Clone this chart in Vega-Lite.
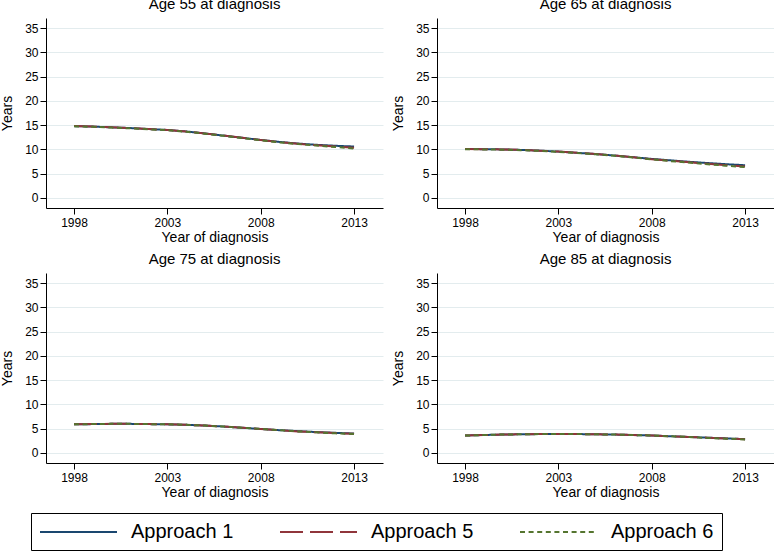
{
"$schema": "https://vega.github.io/schema/vega-lite/v6.json",
"background": "white",
"padding": {"left": 0, "top": -3, "right": 0, "bottom": 0},
"config": {
  "font": "Liberation Sans",
  "view": {"stroke": null},
  "title": {"fontSize": 15, "fontWeight": "normal", "color": "black", "offset": 6, "anchor": "middle", "font": "Liberation Sans"},
  "axis": {"domainColor": "black", "tickColor": "black", "labelColor": "black", "titleColor": "black", "labelFontSize": 12, "titleFontSize": 14, "titleFontWeight": "normal", "tickSize": 6, "gridColor": "#e3ecee", "gridWidth": 1, "labelFont": "Liberation Sans", "titleFont": "Liberation Sans"},
  "axisX": {"labelPadding": 3, "titlePadding": 2},
  "axisY": {"labelPadding": 2, "titlePadding": 10, "labelAngle": 0}
},
"data": {"values": [
{"age":55,"approach":"Approach 1","year":1998,"years":14.8},{"age":55,"approach":"Approach 1","year":1999,"years":14.7},{"age":55,"approach":"Approach 1","year":2000,"years":14.55},{"age":55,"approach":"Approach 1","year":2001,"years":14.4},{"age":55,"approach":"Approach 1","year":2002,"years":14.2},{"age":55,"approach":"Approach 1","year":2003,"years":14.0},{"age":55,"approach":"Approach 1","year":2004,"years":13.7},{"age":55,"approach":"Approach 1","year":2005,"years":13.3},{"age":55,"approach":"Approach 1","year":2006,"years":12.85},{"age":55,"approach":"Approach 1","year":2007,"years":12.4},{"age":55,"approach":"Approach 1","year":2008,"years":11.95},{"age":55,"approach":"Approach 1","year":2009,"years":11.55},{"age":55,"approach":"Approach 1","year":2010,"years":11.2},{"age":55,"approach":"Approach 1","year":2011,"years":10.95},{"age":55,"approach":"Approach 1","year":2012,"years":10.75},{"age":55,"approach":"Approach 1","year":2013,"years":10.6},
{"age":55,"approach":"Approach 5","year":1998,"years":14.8},{"age":55,"approach":"Approach 5","year":1999,"years":14.7},{"age":55,"approach":"Approach 5","year":2000,"years":14.55},{"age":55,"approach":"Approach 5","year":2001,"years":14.4},{"age":55,"approach":"Approach 5","year":2002,"years":14.2},{"age":55,"approach":"Approach 5","year":2003,"years":14.0},{"age":55,"approach":"Approach 5","year":2004,"years":13.7},{"age":55,"approach":"Approach 5","year":2005,"years":13.3},{"age":55,"approach":"Approach 5","year":2006,"years":12.85},{"age":55,"approach":"Approach 5","year":2007,"years":12.4},{"age":55,"approach":"Approach 5","year":2008,"years":11.95},{"age":55,"approach":"Approach 5","year":2009,"years":11.5},{"age":55,"approach":"Approach 5","year":2010,"years":11.15},{"age":55,"approach":"Approach 5","year":2011,"years":10.85},{"age":55,"approach":"Approach 5","year":2012,"years":10.6},{"age":55,"approach":"Approach 5","year":2013,"years":10.35},
{"age":55,"approach":"Approach 6","year":1998,"years":14.75},{"age":55,"approach":"Approach 6","year":1999,"years":14.65},{"age":55,"approach":"Approach 6","year":2000,"years":14.5},{"age":55,"approach":"Approach 6","year":2001,"years":14.35},{"age":55,"approach":"Approach 6","year":2002,"years":14.15},{"age":55,"approach":"Approach 6","year":2003,"years":13.95},{"age":55,"approach":"Approach 6","year":2004,"years":13.65},{"age":55,"approach":"Approach 6","year":2005,"years":13.25},{"age":55,"approach":"Approach 6","year":2006,"years":12.8},{"age":55,"approach":"Approach 6","year":2007,"years":12.35},{"age":55,"approach":"Approach 6","year":2008,"years":11.9},{"age":55,"approach":"Approach 6","year":2009,"years":11.45},{"age":55,"approach":"Approach 6","year":2010,"years":11.1},{"age":55,"approach":"Approach 6","year":2011,"years":10.8},{"age":55,"approach":"Approach 6","year":2012,"years":10.5},{"age":55,"approach":"Approach 6","year":2013,"years":10.2},
{"age":65,"approach":"Approach 1","year":1998,"years":10.1},{"age":65,"approach":"Approach 1","year":1999,"years":10.05},{"age":65,"approach":"Approach 1","year":2000,"years":10.0},{"age":65,"approach":"Approach 1","year":2001,"years":9.9},{"age":65,"approach":"Approach 1","year":2002,"years":9.75},{"age":65,"approach":"Approach 1","year":2003,"years":9.55},{"age":65,"approach":"Approach 1","year":2004,"years":9.3},{"age":65,"approach":"Approach 1","year":2005,"years":9.05},{"age":65,"approach":"Approach 1","year":2006,"years":8.75},{"age":65,"approach":"Approach 1","year":2007,"years":8.4},{"age":65,"approach":"Approach 1","year":2008,"years":8.05},{"age":65,"approach":"Approach 1","year":2009,"years":7.75},{"age":65,"approach":"Approach 1","year":2010,"years":7.45},{"age":65,"approach":"Approach 1","year":2011,"years":7.2},{"age":65,"approach":"Approach 1","year":2012,"years":6.95},{"age":65,"approach":"Approach 1","year":2013,"years":6.75},
{"age":65,"approach":"Approach 5","year":1998,"years":10.1},{"age":65,"approach":"Approach 5","year":1999,"years":10.05},{"age":65,"approach":"Approach 5","year":2000,"years":10.0},{"age":65,"approach":"Approach 5","year":2001,"years":9.9},{"age":65,"approach":"Approach 5","year":2002,"years":9.75},{"age":65,"approach":"Approach 5","year":2003,"years":9.55},{"age":65,"approach":"Approach 5","year":2004,"years":9.3},{"age":65,"approach":"Approach 5","year":2005,"years":9.05},{"age":65,"approach":"Approach 5","year":2006,"years":8.75},{"age":65,"approach":"Approach 5","year":2007,"years":8.4},{"age":65,"approach":"Approach 5","year":2008,"years":8.0},{"age":65,"approach":"Approach 5","year":2009,"years":7.7},{"age":65,"approach":"Approach 5","year":2010,"years":7.35},{"age":65,"approach":"Approach 5","year":2011,"years":7.05},{"age":65,"approach":"Approach 5","year":2012,"years":6.75},{"age":65,"approach":"Approach 5","year":2013,"years":6.5},
{"age":65,"approach":"Approach 6","year":1998,"years":10.05},{"age":65,"approach":"Approach 6","year":1999,"years":10.0},{"age":65,"approach":"Approach 6","year":2000,"years":9.95},{"age":65,"approach":"Approach 6","year":2001,"years":9.85},{"age":65,"approach":"Approach 6","year":2002,"years":9.7},{"age":65,"approach":"Approach 6","year":2003,"years":9.5},{"age":65,"approach":"Approach 6","year":2004,"years":9.25},{"age":65,"approach":"Approach 6","year":2005,"years":9.0},{"age":65,"approach":"Approach 6","year":2006,"years":8.7},{"age":65,"approach":"Approach 6","year":2007,"years":8.35},{"age":65,"approach":"Approach 6","year":2008,"years":7.95},{"age":65,"approach":"Approach 6","year":2009,"years":7.6},{"age":65,"approach":"Approach 6","year":2010,"years":7.3},{"age":65,"approach":"Approach 6","year":2011,"years":6.95},{"age":65,"approach":"Approach 6","year":2012,"years":6.65},{"age":65,"approach":"Approach 6","year":2013,"years":6.35},
{"age":75,"approach":"Approach 1","year":1998,"years":5.9},{"age":75,"approach":"Approach 1","year":1999,"years":5.95},{"age":75,"approach":"Approach 1","year":2000,"years":6.0},{"age":75,"approach":"Approach 1","year":2001,"years":6.0},{"age":75,"approach":"Approach 1","year":2002,"years":5.95},{"age":75,"approach":"Approach 1","year":2003,"years":5.9},{"age":75,"approach":"Approach 1","year":2004,"years":5.8},{"age":75,"approach":"Approach 1","year":2005,"years":5.65},{"age":75,"approach":"Approach 1","year":2006,"years":5.45},{"age":75,"approach":"Approach 1","year":2007,"years":5.2},{"age":75,"approach":"Approach 1","year":2008,"years":4.95},{"age":75,"approach":"Approach 1","year":2009,"years":4.7},{"age":75,"approach":"Approach 1","year":2010,"years":4.5},{"age":75,"approach":"Approach 1","year":2011,"years":4.3},{"age":75,"approach":"Approach 1","year":2012,"years":4.15},{"age":75,"approach":"Approach 1","year":2013,"years":4.0},
{"age":75,"approach":"Approach 5","year":1998,"years":5.9},{"age":75,"approach":"Approach 5","year":1999,"years":5.95},{"age":75,"approach":"Approach 5","year":2000,"years":6.0},{"age":75,"approach":"Approach 5","year":2001,"years":6.0},{"age":75,"approach":"Approach 5","year":2002,"years":5.95},{"age":75,"approach":"Approach 5","year":2003,"years":5.9},{"age":75,"approach":"Approach 5","year":2004,"years":5.8},{"age":75,"approach":"Approach 5","year":2005,"years":5.65},{"age":75,"approach":"Approach 5","year":2006,"years":5.45},{"age":75,"approach":"Approach 5","year":2007,"years":5.2},{"age":75,"approach":"Approach 5","year":2008,"years":4.95},{"age":75,"approach":"Approach 5","year":2009,"years":4.7},{"age":75,"approach":"Approach 5","year":2010,"years":4.45},{"age":75,"approach":"Approach 5","year":2011,"years":4.25},{"age":75,"approach":"Approach 5","year":2012,"years":4.1},{"age":75,"approach":"Approach 5","year":2013,"years":3.95},
{"age":75,"approach":"Approach 6","year":1998,"years":5.9},{"age":75,"approach":"Approach 6","year":1999,"years":5.95},{"age":75,"approach":"Approach 6","year":2000,"years":6.0},{"age":75,"approach":"Approach 6","year":2001,"years":6.0},{"age":75,"approach":"Approach 6","year":2002,"years":5.95},{"age":75,"approach":"Approach 6","year":2003,"years":5.9},{"age":75,"approach":"Approach 6","year":2004,"years":5.8},{"age":75,"approach":"Approach 6","year":2005,"years":5.65},{"age":75,"approach":"Approach 6","year":2006,"years":5.45},{"age":75,"approach":"Approach 6","year":2007,"years":5.2},{"age":75,"approach":"Approach 6","year":2008,"years":4.95},{"age":75,"approach":"Approach 6","year":2009,"years":4.7},{"age":75,"approach":"Approach 6","year":2010,"years":4.45},{"age":75,"approach":"Approach 6","year":2011,"years":4.25},{"age":75,"approach":"Approach 6","year":2012,"years":4.05},{"age":75,"approach":"Approach 6","year":2013,"years":3.9},
{"age":85,"approach":"Approach 1","year":1998,"years":3.6},{"age":85,"approach":"Approach 1","year":1999,"years":3.7},{"age":85,"approach":"Approach 1","year":2000,"years":3.8},{"age":85,"approach":"Approach 1","year":2001,"years":3.85},{"age":85,"approach":"Approach 1","year":2002,"years":3.9},{"age":85,"approach":"Approach 1","year":2003,"years":3.9},{"age":85,"approach":"Approach 1","year":2004,"years":3.9},{"age":85,"approach":"Approach 1","year":2005,"years":3.85},{"age":85,"approach":"Approach 1","year":2006,"years":3.8},{"age":85,"approach":"Approach 1","year":2007,"years":3.7},{"age":85,"approach":"Approach 1","year":2008,"years":3.6},{"age":85,"approach":"Approach 1","year":2009,"years":3.45},{"age":85,"approach":"Approach 1","year":2010,"years":3.3},{"age":85,"approach":"Approach 1","year":2011,"years":3.15},{"age":85,"approach":"Approach 1","year":2012,"years":3.0},{"age":85,"approach":"Approach 1","year":2013,"years":2.85},
{"age":85,"approach":"Approach 5","year":1998,"years":3.6},{"age":85,"approach":"Approach 5","year":1999,"years":3.7},{"age":85,"approach":"Approach 5","year":2000,"years":3.8},{"age":85,"approach":"Approach 5","year":2001,"years":3.85},{"age":85,"approach":"Approach 5","year":2002,"years":3.9},{"age":85,"approach":"Approach 5","year":2003,"years":3.9},{"age":85,"approach":"Approach 5","year":2004,"years":3.9},{"age":85,"approach":"Approach 5","year":2005,"years":3.85},{"age":85,"approach":"Approach 5","year":2006,"years":3.8},{"age":85,"approach":"Approach 5","year":2007,"years":3.7},{"age":85,"approach":"Approach 5","year":2008,"years":3.6},{"age":85,"approach":"Approach 5","year":2009,"years":3.45},{"age":85,"approach":"Approach 5","year":2010,"years":3.3},{"age":85,"approach":"Approach 5","year":2011,"years":3.15},{"age":85,"approach":"Approach 5","year":2012,"years":3.0},{"age":85,"approach":"Approach 5","year":2013,"years":2.85},
{"age":85,"approach":"Approach 6","year":1998,"years":3.6},{"age":85,"approach":"Approach 6","year":1999,"years":3.7},{"age":85,"approach":"Approach 6","year":2000,"years":3.8},{"age":85,"approach":"Approach 6","year":2001,"years":3.85},{"age":85,"approach":"Approach 6","year":2002,"years":3.9},{"age":85,"approach":"Approach 6","year":2003,"years":3.9},{"age":85,"approach":"Approach 6","year":2004,"years":3.9},{"age":85,"approach":"Approach 6","year":2005,"years":3.85},{"age":85,"approach":"Approach 6","year":2006,"years":3.8},{"age":85,"approach":"Approach 6","year":2007,"years":3.7},{"age":85,"approach":"Approach 6","year":2008,"years":3.6},{"age":85,"approach":"Approach 6","year":2009,"years":3.45},{"age":85,"approach":"Approach 6","year":2010,"years":3.3},{"age":85,"approach":"Approach 6","year":2011,"years":3.1},{"age":85,"approach":"Approach 6","year":2012,"years":2.95},{"age":85,"approach":"Approach 6","year":2013,"years":2.8}
]},
"columns": 2,
"bounds": "flush",
"spacing": {"row": 65, "column": 54},
"concat": [
 {"title": "Age 55 at diagnosis", "width": 337, "height": 190,
  "transform": [{"filter": "datum.age == 55"}],
  "mark": {"type": "line", "strokeWidth": 2},
  "encoding": {
   "x": {"field": "year", "type": "quantitative", "scale": {"domain": [1996.5, 2014.55], "nice": false, "zero": false}, "axis": {"values": [1998, 2003, 2008, 2013], "format": "d", "title": "Year of diagnosis", "grid": false}},
   "y": {"field": "years", "type": "quantitative", "scale": {"domain": [-2.06, 37.06], "nice": false, "zero": false}, "axis": {"values": [0, 5, 10, 15, 20, 25, 30, 35], "title": "Years", "grid": true}},
   "color": {"field": "approach", "type": "nominal", "scale": {"domain": ["Approach 1", "Approach 5", "Approach 6"], "range": ["#1a476f", "#90353b", "#55752f"]}, "legend": {"title": null, "orient": "none", "legendX": -15, "legendY": 495, "direction": "horizontal", "columns": 3, "symbolType": "M-1,0H6.7", "symbolSize": 400, "symbolStrokeWidth": 2, "labelFontSize": 20, "labelColor": "black", "labelOffset": 70, "columnPadding": 42, "padding": 8, "strokeColor": "black", "fillColor": "white"}},
   "strokeDash": {"field": "approach", "type": "nominal", "scale": {"domain": ["Approach 1", "Approach 5", "Approach 6"], "range": [[1, 0], [23, 7], [5, 3.6]]}, "legend": {"title": null, "orient": "none", "legendX": -15, "legendY": 495, "direction": "horizontal", "columns": 3, "symbolType": "M-1,0H6.7", "symbolSize": 400, "symbolStrokeWidth": 2, "labelFontSize": 20, "labelColor": "black", "labelOffset": 70, "columnPadding": 42, "padding": 8, "strokeColor": "black", "fillColor": "white"}}
  }},
 {"title": "Age 65 at diagnosis", "width": 337, "height": 190,
  "transform": [{"filter": "datum.age == 65"}],
  "mark": {"type": "line", "strokeWidth": 2},
  "encoding": {
   "x": {"field": "year", "type": "quantitative", "scale": {"domain": [1996.5, 2014.55], "nice": false, "zero": false}, "axis": {"values": [1998, 2003, 2008, 2013], "format": "d", "title": "Year of diagnosis", "grid": false}},
   "y": {"field": "years", "type": "quantitative", "scale": {"domain": [-2.06, 37.06], "nice": false, "zero": false}, "axis": {"values": [0, 5, 10, 15, 20, 25, 30, 35], "title": "Years", "grid": true}},
   "color": {"field": "approach", "type": "nominal"},
   "strokeDash": {"field": "approach", "type": "nominal"}
  }},
 {"title": "Age 75 at diagnosis", "width": 337, "height": 190,
  "transform": [{"filter": "datum.age == 75"}],
  "mark": {"type": "line", "strokeWidth": 2},
  "encoding": {
   "x": {"field": "year", "type": "quantitative", "scale": {"domain": [1996.5, 2014.55], "nice": false, "zero": false}, "axis": {"values": [1998, 2003, 2008, 2013], "format": "d", "title": "Year of diagnosis", "grid": false}},
   "y": {"field": "years", "type": "quantitative", "scale": {"domain": [-2.06, 37.06], "nice": false, "zero": false}, "axis": {"values": [0, 5, 10, 15, 20, 25, 30, 35], "title": "Years", "grid": true}},
   "color": {"field": "approach", "type": "nominal"},
   "strokeDash": {"field": "approach", "type": "nominal"}
  }},
 {"title": "Age 85 at diagnosis", "width": 337, "height": 190,
  "transform": [{"filter": "datum.age == 85"}],
  "mark": {"type": "line", "strokeWidth": 2},
  "encoding": {
   "x": {"field": "year", "type": "quantitative", "scale": {"domain": [1996.5, 2014.55], "nice": false, "zero": false}, "axis": {"values": [1998, 2003, 2008, 2013], "format": "d", "title": "Year of diagnosis", "grid": false}},
   "y": {"field": "years", "type": "quantitative", "scale": {"domain": [-2.06, 37.06], "nice": false, "zero": false}, "axis": {"values": [0, 5, 10, 15, 20, 25, 30, 35], "title": "Years", "grid": true}},
   "color": {"field": "approach", "type": "nominal"},
   "strokeDash": {"field": "approach", "type": "nominal"}
  }}
]
}
